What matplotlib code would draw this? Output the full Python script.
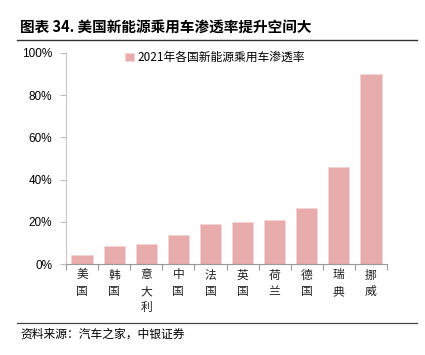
import numpy as np
import matplotlib.pyplot as plt
from matplotlib.lines import Line2D

plt.rcParams['font.family'] = ['Noto Sans CJK SC', 'DejaVu Sans']

# 数据
countries = ['美国', '韩国', '意大利', '中国', '法国', '英国', '荷兰', '德国', '瑞典', '挪威']
penetration = [4.6, 8.8, 9.7, 14.0, 19.2, 19.8, 20.9, 26.5, 46.0, 89.8]
series_name = '2021年各国新能源乘用车渗透率'
title = '图表 34. 美国新能源乘用车渗透率提升空间大'
source = '资料来源：汽车之家，中银证券'

bar_color = '#E9ACAC'

fig = plt.figure(figsize=(4.25, 3.55), dpi=100)
ax = fig.add_axes([66 / 425, 1 - 264.3 / 355, 321 / 425, 211.6 / 355])

x = np.arange(len(countries))
ax.bar(x, penetration, width=0.66, color=bar_color, edgecolor='#F4D4D4',
       linewidth=0.6, label=series_name)

ax.set_xlim(-0.5, len(countries) - 0.5)
ax.set_ylim(0, 100)
ax.set_yticks(np.arange(0, 101, 20))
ax.set_yticklabels([f'{v}%' for v in range(0, 101, 20)],
                   family=['Liberation Sans', 'DejaVu Sans'], fontsize=8.5)

ax.set_xticks(x)
ax.set_xticklabels(['\n'.join(c) for c in countries], fontsize=8.5,
                   linespacing=1.35, color='#222222')
ax.set_xticks(np.arange(-0.5, len(countries)), minor=True)
ax.tick_params(axis='x', which='major', length=0, pad=3)
ax.tick_params(axis='x', which='minor', length=4, color='#999999', width=0.8)
ax.tick_params(axis='y', length=4, color='#BBBBBB', width=0.8, pad=6)

for s in ['top', 'right']:
    ax.spines[s].set_visible(False)
ax.spines['left'].set_color('#C8C8C8')
ax.spines['bottom'].set_color('#999999')
ax.spines['left'].set_linewidth(0.8)
ax.spines['bottom'].set_linewidth(0.8)

ax.legend(loc='upper left', bbox_to_anchor=(0.17, 1.03), frameon=False,
          fontsize=8.5, handlelength=0.7, handleheight=0.7, handletextpad=0.3,
          borderaxespad=0)

# 标题与来源
fig.text(20 / 425, 1 - 27 / 355, title, fontsize=10.5, fontweight='bold',
         va='center', ha='left')
fig.add_artist(Line2D([17 / 425, 417 / 425], [1 - 40 / 355, 1 - 40 / 355],
                      color='#333333', linewidth=1.0))
fig.add_artist(Line2D([17 / 425, 417 / 425], [1 - 323 / 355, 1 - 323 / 355],
                      color='#444444', linewidth=0.9))
fig.text(20 / 425, 1 - 334 / 355, source, fontsize=8.5, style='italic',
         va='center', ha='left')

fig.savefig('out.png', dpi=100)
